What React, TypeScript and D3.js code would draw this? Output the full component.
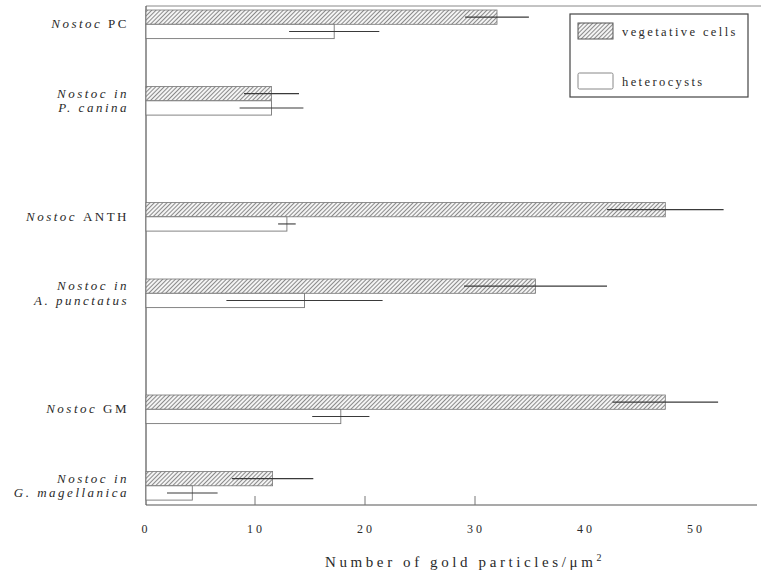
import React from "react";
import * as d3 from "d3";

// strains, in pairs: free-living isolate, then the same Nostoc in its host
const strains = ["PC", "P. canina", "ANTH", "A. punctatus", "GM", "G. magellanica"];
const pairs = ["PC", "ANTH", "GM"];
const labelLines = [
  [["Nostoc ", "PC"]],
  [["Nostoc in", ""], ["P. canina", ""]],
  [["Nostoc ", "ANTH"]],
  [["Nostoc in", ""], ["A. punctatus", ""]],
  [["Nostoc ", "GM"]],
  [["Nostoc in", ""], ["G. magellanica", ""]],
];

const vegetative = [32.0, 11.5, 47.3, 35.5, 47.3, 11.6];
const vegetativeErr = [2.9, 2.5, 5.3, 6.5, 4.8, 3.7];
const heterocysts = [17.2, 11.5, 12.9, 14.5, 17.8, 4.3];
const heterocystsErr = [4.1, 2.9, 0.8, 7.1, 2.6, 2.3];

const xTicks = [0, 10, 20, 30, 40, 50];
const tickMarks = [10, 20, 30];

const legendItems = ["vegetative cells", "heterocysts"];

const W = 761;
const H = 572;
const serif = "'Liberation Serif', 'DejaVu Serif', serif";

export default function App() {
  const left = 145;
  const top = 6;
  const bottom = 505;

  const x = d3.scaleLinear().domain([0, 55.5]).range([left, 755.5]);

  // pair bands, then a member band inside each pair
  const yPair = d3.scaleBand<string>().domain(pairs).range([10, 10 + 3 * 192.5]);
  const yMember = d3.scaleBand<number>().domain([0, 1]).range([0, 153]);
  const barH = 14.3;
  const rowY = (i: number) => (yPair(pairs[Math.floor(i / 2)]) as number) + (yMember(i % 2) as number);

  const ink = "#2a2a2a";
  const line = "#555";

  return (
    <svg width={W} height={H} style={{ position: "absolute", left: 0, top: 0, background: "#fff" }}>
      <defs>
        <pattern id="hatch" patternUnits="userSpaceOnUse" width={3} height={3} patternTransform="rotate(45)">
          <rect width={3} height={3} fill="#f4f4f4" />
          <line x1={0.5} y1={0} x2={0.5} y2={3} stroke="#8a8a8a" strokeWidth={1} />
        </pattern>
      </defs>

      {/* frame */}
      <line x1={left + 1} y1={top} x2={W} y2={top} stroke="#888" strokeWidth={1} />
      <line x1={left + 1} y1={top} x2={left + 1} y2={bottom} stroke={line} strokeWidth={1.2} />
      <line x1={left + 1} y1={bottom} x2={757} y2={bottom} stroke={line} strokeWidth={1.2} />
      {tickMarks.map((t) => (
        <line key={t} x1={x(t)} y1={bottom} x2={x(t)} y2={bottom - 9} stroke="#777" strokeWidth={1} />
      ))}
      {xTicks.map((t) => (
        <text
          key={t}
          x={x(t) + 1}
          y={533}
          textAnchor="middle"
          fontFamily={serif}
          fontSize={12}
          letterSpacing={3}
          fill={ink}
        >
          {t}
        </text>
      ))}
      <text x={465} y={567} textAnchor="middle" fontFamily={serif} fontSize={15} letterSpacing={3.6} fill={ink}>
        Number of gold particles/μm
        <tspan fontSize={10} dy={-6}>
          2
        </tspan>
      </text>

      {/* bars */}
      {strains.map((s, i) => {
        const y0 = rowY(i);
        const yv = y0 + barH / 2;
        const yh = y0 + barH * 1.5;
        return (
          <g key={s}>
            <rect
              x={x(0) + 1}
              y={y0}
              width={x(vegetative[i]) - x(0) - 1}
              height={barH}
              fill="url(#hatch)"
              stroke="#777"
              strokeWidth={0.8}
            />
            <rect
              x={x(0) + 1}
              y={y0 + barH}
              width={x(heterocysts[i]) - x(0) - 1}
              height={barH}
              fill="#fff"
              stroke="#777"
              strokeWidth={0.9}
            />
            <line
              x1={x(vegetative[i] - vegetativeErr[i])}
              x2={x(vegetative[i] + vegetativeErr[i])}
              y1={yv}
              y2={yv}
              stroke="#3a3a3a"
              strokeWidth={1.1}
            />
            <line
              x1={x(heterocysts[i] - heterocystsErr[i])}
              x2={x(heterocysts[i] + heterocystsErr[i])}
              y1={yh}
              y2={yh}
              stroke="#3a3a3a"
              strokeWidth={1.1}
            />
          </g>
        );
      })}

      {/* strain labels */}
      {labelLines.map((lines, i) => {
        const mid = rowY(i) + barH;
        const n = lines.length;
        return (
          <text
            key={i}
            textAnchor="end"
            fontFamily={serif}
            fontSize={13}
            letterSpacing={2.5}
            fill={ink}
            style={{ whiteSpace: "pre" }}
          >
            {lines.map(([it, rm], k) => (
              <tspan key={k} x={129} y={mid + 4 + (k - (n - 1) / 2) * 14.5}>
                <tspan fontStyle="italic">{it}</tspan>
                {rm && <tspan>{rm}</tspan>}
              </tspan>
            ))}
          </text>
        );
      })}

      {/* legend */}
      <rect x={570} y={14} width={178} height={83} fill="#fff" stroke="#444" strokeWidth={1.2} />
      {legendItems.map((name, i) => {
        const sy = 23 + i * 50;
        return (
          <g key={name}>
            <rect
              x={578}
              y={sy}
              width={35}
              height={16}
              fill={i === 0 ? "url(#hatch)" : "#fff"}
              stroke={i === 0 ? "#555" : "#888"}
              strokeWidth={1}
              rx={i === 0 ? 0 : 1.5}
            />
            <text x={622} y={sy + 13} fontFamily={serif} fontSize={12.5} letterSpacing={2.4} fill={ink}>
              {name}
            </text>
          </g>
        );
      })}
    </svg>
  );
}
